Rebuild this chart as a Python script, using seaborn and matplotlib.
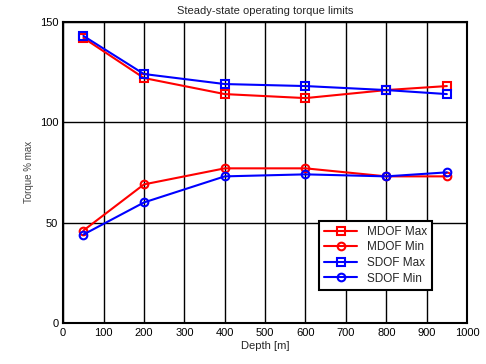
import pandas as pd
import matplotlib
matplotlib.use('Agg')
import matplotlib.pyplot as plt
import seaborn as sns

# Data
depth = [50, 200, 400, 600, 800, 950]
mdof_max = [142, 122, 114, 112, 116, 118]
mdof_min = [46, 69, 77, 77, 73, 73]
sdof_max = [143, 124, 119, 118, 116, 114]
sdof_min = [44, 60, 73, 74, 73, 75]

series = [
    ('MDOF Max', mdof_max, 'red', 's'),
    ('MDOF Min', mdof_min, 'red', 'o'),
    ('SDOF Max', sdof_max, 'blue', 's'),
    ('SDOF Min', sdof_min, 'blue', 'o'),
]

sns.set_style('white')
plt.rcParams['font.family'] = ['Liberation Sans', 'DejaVu Sans']

fig = plt.figure(figsize=(4.86, 3.64), dpi=100)
ax = fig.add_axes([0.130, 0.113, 0.831, 0.827])

for name, vals, color, marker in series:
    df = pd.DataFrame({'Depth': depth, 'Torque': vals})
    sns.lineplot(data=df, x='Depth', y='Torque', ax=ax, color=color,
                 marker=marker, markersize=5.5, markerfacecolor='none',
                 markeredgecolor=color, markeredgewidth=1.5,
                 linewidth=1.5, label=name)

ax.set_xlim(0, 1000)
ax.set_ylim(0, 150)
ax.set_xticks(range(0, 1001, 100))
ax.set_yticks([0, 50, 100, 150])
ax.grid(True, color='black', linewidth=1.0)
ax.set_axisbelow(True)
for s in ax.spines.values():
    s.set_color('black')
    s.set_linewidth(1.5)
ax.tick_params(direction='in', length=4, width=1, labelsize=8, colors='black')

ax.set_title('Steady-state operating torque limits', fontsize=8)
ax.set_xlabel('Depth [m]', fontsize=8, labelpad=2)
ax.set_ylabel('Torque % max', fontsize=7, color='#444444')

leg = ax.legend(loc='lower right', bbox_to_anchor=(0.928, 0.09), fontsize=8.5,
                fancybox=False, framealpha=1, edgecolor='black',
                handlelength=2.8, borderpad=0.45, labelspacing=0.3)
leg.get_frame().set_linewidth(1.5)

fig.savefig('out.png', dpi=100)
